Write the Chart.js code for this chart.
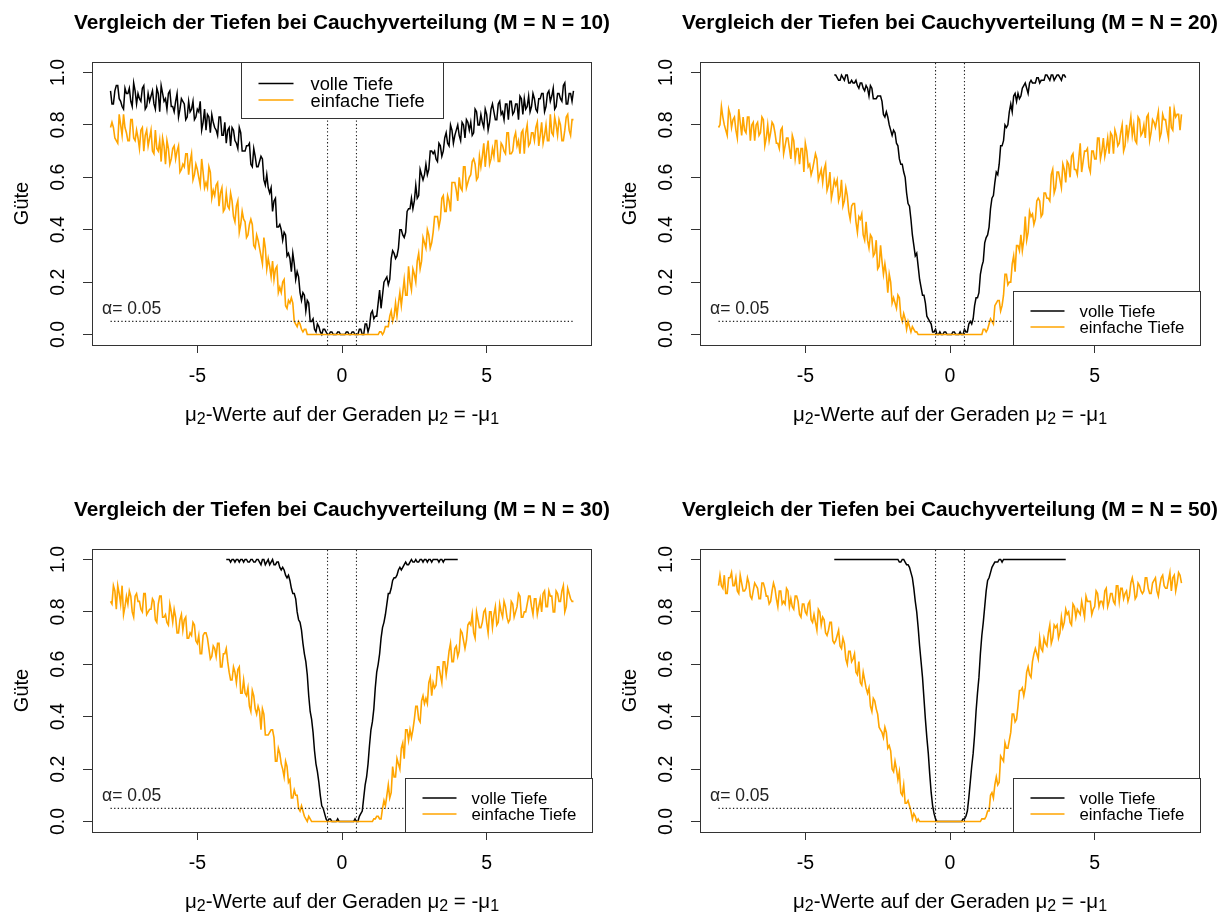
<!DOCTYPE html>
<html>
<head>
<meta charset="utf-8">
<script src="https://cdn.jsdelivr.net/npm/chart.js@4.4.1/dist/chart.umd.min.js"></script>
<style>
  body { margin: 0; background: #fff; width: 1229px; height: 914px; position: relative; overflow: hidden; }
  canvas { position: absolute; }
</style>
</head>
<body>
<canvas id="c10" width="614" height="427" style="left:0px;top:0px"></canvas>
<canvas id="c20" width="614" height="427" style="left:608px;top:0px"></canvas>
<canvas id="c30" width="614" height="427" style="left:0px;top:487px"></canvas>
<canvas id="c50" width="614" height="427" style="left:608px;top:487px"></canvas>
<script>
// ========== DATA ==========
// mu2 grid on the line mu2 = -mu1 (main grid and the points in between)
const X_FULL = [-8,-7.9,-7.8,-7.7,-7.6,-7.5,-7.4,-7.3,-7.2,-7.1,-7,-6.9,-6.8,-6.7,-6.6,-6.5,-6.4,-6.3,-6.2,-6.1,
  -6,-5.9,-5.8,-5.7,-5.6,-5.5,-5.4,-5.3,-5.2,-5.1,-5,-4.9,-4.8,-4.7,-4.6,-4.5,-4.4,-4.3,-4.2,-4.1,
  -4,-3.9,-3.8,-3.7,-3.6,-3.5,-3.4,-3.3,-3.2,-3.1,-3,-2.9,-2.8,-2.7,-2.6,-2.5,-2.4,-2.3,-2.2,-2.1,
  -2,-1.9,-1.8,-1.7,-1.6,-1.5,-1.4,-1.3,-1.2,-1.1,-1,-0.9,-0.8,-0.7,-0.6,-0.5,-0.4,-0.3,-0.2,-0.1,
  0,0.1,0.2,0.3,0.4,0.5,0.6,0.7,0.8,0.9,1,1.1,1.2,1.3,1.4,1.5,1.6,1.7,1.8,1.9,
  2,2.1,2.2,2.3,2.4,2.5,2.6,2.7,2.8,2.9,3,3.1,3.2,3.3,3.4,3.5,3.6,3.7,3.8,3.9,
  4,4.1,4.2,4.3,4.4,4.5,4.6,4.7,4.8,4.9,5,5.1,5.2,5.3,5.4,5.5,5.6,5.7,5.8,5.9,
  6,6.1,6.2,6.3,6.4,6.5,6.6,6.7,6.8,6.9,7,7.1,7.2,7.3,7.4,7.5,7.6,7.7,7.8,7.9,8];
const X_FULL_MID = [-7.95,-7.85,-7.75,-7.65,-7.55,-7.45,-7.35,-7.25,-7.15,-7.05,-6.95,-6.85,-6.75,-6.65,-6.55,-6.45,-6.35,-6.25,-6.15,-6.05,
  -5.95,-5.85,-5.75,-5.65,-5.55,-5.45,-5.35,-5.25,-5.15,-5.05,-4.95,-4.85,-4.75,-4.65,-4.55,-4.45,-4.35,-4.25,-4.15,-4.05,
  -3.95,-3.85,-3.75,-3.65,-3.55,-3.45,-3.35,-3.25,-3.15,-3.05,-2.95,-2.85,-2.75,-2.65,-2.55,-2.45,-2.35,-2.25,-2.15,-2.05,
  -1.95,-1.85,-1.75,-1.65,-1.55,-1.45,-1.35,-1.25,-1.15,-1.05,-0.95,-0.85,-0.75,-0.65,-0.55,-0.45,-0.35,-0.25,-0.15,-0.05,
  0.05,0.15,0.25,0.35,0.45,0.55,0.65,0.75,0.85,0.95,1.05,1.15,1.25,1.35,1.45,1.55,1.65,1.75,1.85,1.95,
  2.05,2.15,2.25,2.35,2.45,2.55,2.65,2.75,2.85,2.95,3.05,3.15,3.25,3.35,3.45,3.55,3.65,3.75,3.85,3.95,
  4.05,4.15,4.25,4.35,4.45,4.55,4.65,4.75,4.85,4.95,5.05,5.15,5.25,5.35,5.45,5.55,5.65,5.75,5.85,5.95,
  6.05,6.15,6.25,6.35,6.45,6.55,6.65,6.75,6.85,6.95,7.05,7.15,7.25,7.35,7.45,7.55,7.65,7.75,7.85,7.95];
const X_HALF = [-4,-3.9,-3.8,-3.7,-3.6,-3.5,-3.4,-3.3,-3.2,-3.1,-3,-2.9,-2.8,-2.7,-2.6,-2.5,-2.4,-2.3,-2.2,-2.1,
  -2,-1.9,-1.8,-1.7,-1.6,-1.5,-1.4,-1.3,-1.2,-1.1,-1,-0.9,-0.8,-0.7,-0.6,-0.5,-0.4,-0.3,-0.2,-0.1,
  0,0.1,0.2,0.3,0.4,0.5,0.6,0.7,0.8,0.9,1,1.1,1.2,1.3,1.4,1.5,1.6,1.7,1.8,1.9,
  2,2.1,2.2,2.3,2.4,2.5,2.6,2.7,2.8,2.9,3,3.1,3.2,3.3,3.4,3.5,3.6,3.7,3.8,3.9,4];
const X_HALF_MID = [-3.95,-3.85,-3.75,-3.65,-3.55,-3.45,-3.35,-3.25,-3.15,-3.05,-2.95,-2.85,-2.75,-2.65,-2.55,-2.45,-2.35,-2.25,-2.15,-2.05,
  -1.95,-1.85,-1.75,-1.65,-1.55,-1.45,-1.35,-1.25,-1.15,-1.05,-0.95,-0.85,-0.75,-0.65,-0.55,-0.45,-0.35,-0.25,-0.15,-0.05,
  0.05,0.15,0.25,0.35,0.45,0.55,0.65,0.75,0.85,0.95,1.05,1.15,1.25,1.35,1.45,1.55,1.65,1.75,1.85,1.95,
  2.05,2.15,2.25,2.35,2.45,2.55,2.65,2.75,2.85,2.95,3.05,3.15,3.25,3.35,3.45,3.55,3.65,3.75,3.85,3.95];

// Guete, volle Tiefe (black) and einfache Tiefe (orange), M = N = 10
const FULL_10 = [.93,.88,.95,.90,.87,.94,.92,.89,.96,.88, .90,.94,.86,.92,.91,.88,.94,.85,.92,.90,
  .92,.87,.85,.92,.86,.89,.82,.89,.86,.82, .86,.89,.81,.78,.83,.84,.79,.76,.83,.76,
  .73,.79,.79,.74,.71,.77,.70,.72,.73,.64, .68,.64,.68,.59,.61,.54,.47,.52,.41,.40,
  .39,.30,.29,.31,.21,.22,.13,.15,.13,.05, .06,.01,.03,0,.02,0,.01,0,0,.01,
  0,0,.01,0,.01,0,.02,0,.04,.01, .08,.06,.07,.17,.15,.21,.19,.29,.31,.30,
  .40,.38,.39,.48,.52,.51,.52,.63,.59,.65, .63,.70,.70,.66,.72,.70,.77,.72,.78,.76,
  .80,.74,.80,.82,.78,.76,.86,.80,.84,.79, .84,.81,.88,.82,.88,.84,.82,.88,.89,.84,
  .88,.82,.90,.90,.87,.85,.92,.86,.90,.92, .85,.92,.89,.94,.87,.92,.89,.96,.88,.92, .93];
const FULL_10_MID = [.88,.93,.95,.89,.86,.92,.94,.87,.93,.92, .89,.95,.87,.89,.93,.86,.92,.95,.89,.86,
  .93,.87,.89,.83,.90,.88,.83,.85,.89,.83, .85,.78,.86,.84,.77,.81,.78,.83,.76,.81,
  .78,.72,.78,.73,.79,.70,.70,.72,.65,.71, .64,.66,.67,.57,.56,.56,.51,.41,.42,.36,
  .38,.31,.24,.27,.24,.16,.16,.09,.12,.05, .02,.04,.01,.02,.01,0,.01,0,.01,0,
  0,.01,0,.01,0,0,.02,0,.04,.03, .09,.07,.12,.10,.20,.22,.21,.32,.29,.33,
  .40,.37,.47,.48,.48,.57,.53,.61,.61,.61, .70,.69,.67,.73,.68,.75,.73,.80,.73,.78,
  .76,.81,.75,.81,.81,.77,.85,.80,.81,.86, .78,.86,.85,.82,.89,.85,.88,.82,.89,.85,
  .88,.91,.84,.86,.91,.87,.90,.85,.90,.92, .87,.93,.91,.86,.92,.90,.95,.88,.92,.89];
const SIMPLE_10 = [.79,.79,.74,.84,.76,.79,.74,.82,.75,.78, .71,.79,.76,.72,.78,.69,.71,.74,.75,.65,
  .71,.67,.72,.70,.62,.65,.69,.61,.69,.61, .63,.57,.62,.58,.64,.52,.53,.58,.54,.47,
  .54,.48,.51,.43,.51,.42,.44,.37,.42,.42, .33,.36,.30,.37,.25,.26,.28,.25,.16,.16,
  .21,.10,.12,.12,.04,.05,.02,.02,0,0, 0,0,0,0,0,0,0,0,0,0,
  0,0,0,0,0,0,0,0,0,0, 0,0,0,.01,0,.03,.03,.09,.07,.07,
  .16,.16,.15,.26,.17,.23,.28,.25,.37,.33, .38,.35,.45,.45,.44,.53,.47,.51,.58,.58,
  .51,.56,.64,.56,.60,.66,.65,.60,.64,.73, .70,.65,.71,.74,.66,.73,.70,.77,.69,.70,
  .77,.74,.77,.69,.80,.73,.77,.79,.72,.81, .76,.74,.84,.76,.80,.82,.74,.78,.84,.76, .82];
const SIMPLE_10_MID = [.81,.75,.73,.80,.84,.77,.74,.82,.74,.75, .78,.70,.78,.75,.70,.78,.70,.66,.72,.74,
  .65,.71,.67,.72,.63,.64,.69,.66,.59,.65, .60,.67,.56,.56,.62,.55,.57,.49,.56,.48,
  .49,.54,.45,.49,.39,.47,.43,.38,.44,.34, .38,.33,.27,.33,.29,.22,.21,.26,.18,.20,
  .11,.13,.14,.05,.03,.04,.01,.02,0,0, 0,0,0,0,0,0,0,0,0,0,
  0,0,0,0,0,0,0,0,0,0, 0,0,0,.01,.01,.03,.07,.05,.12,.12,
  .11,.21,.15,.20,.25,.20,.31,.28,.35,.40, .33,.39,.45,.41,.52,.47,.53,.47,.58,.55,
  .60,.55,.64,.58,.61,.67,.59,.68,.68,.64, .74,.67,.68,.74,.66,.72,.69,.77,.69,.75,
  .72,.69,.78,.77,.72,.77,.74,.81,.76,.73, .80,.74,.77,.83,.76,.80,.74,.83,.78,.82];

// M = N = 20
const FULL_20 = [.99,.98,.97,.98,.99,.96,.97,.96,.95,.96, .94,.95,.91,.94,.90,.91,.91,.84,.85,.80,
  .76,.77,.72,.65,.62,.54,.49,.38,.30,.26, .18,.15,.07,.05,.01,.02,0,0,.01,0,
  0,.01,0,0,0,.02,.01,.05,.06,.14, .16,.26,.35,.38,.48,.53,.62,.65,.72,.80,
  .80,.88,.91,.89,.90,.94,.96,.92,.97,.96, .98,.96,.97,.99,.98,.99,.97,.99,.98,.99, .98];
const FULL_20_MID = [.99,.97,.99,.97,.99,.96,.96,.97,.94,.96, .93,.94,.95,.90,.90,.91,.89,.83,.83,.78,
  .78,.73,.67,.65,.60,.50,.44,.34,.31,.21, .15,.12,.06,.04,.01,0,.01,0,.01,0,
  0,.01,0,.01,0,.01,.04,.04,.11,.14, .23,.28,.37,.41,.52,.58,.61,.72,.74,.79,
  .85,.85,.92,.92,.91,.95,.94,.96,.96,.96, .98,.97,.97,.99,.97,.99,.98,.99,.97,.99];
const SIMPLE_20 = [.79,.87,.80,.76,.84,.82,.78,.86,.76,.78, .83,.74,.81,.80,.76,.83,.72,.80,.77,.80,
  .73,.71,.79,.72,.75,.67,.74,.71,.65,.71, .73,.64,.61,.66,.67,.61,.58,.65,.57,.52,
  .59,.59,.53,.49,.56,.47,.49,.50,.39,.44, .38,.43,.33,.37,.31,.25,.34,.23,.23,.23,
  .12,.12,.15,.07,.08,.02,.03,.03,.01,0, 0,0,0,0,0,0,0,0,0,0,
  0,0,0,0,0,0,0,0,0,0, 0,0,.02,.02,.06,.04,.12,.13,.11,.23,
  .19,.20,.30,.34,.32,.32,.45,.39,.45,.42, .51,.51,.46,.54,.52,.61,.54,.62,.59,.65,
  .58,.65,.68,.63,.61,.73,.66,.70,.64,.70, .67,.75,.67,.75,.71,.69,.76,.78,.72,.77,
  .70,.80,.79,.76,.74,.83,.76,.80,.83,.74, .82,.79,.85,.77,.82,.78,.87,.78,.83,.84, .84];
const SIMPLE_20_MID = [.80,.83,.78,.86,.79,.83,.75,.81,.83,.77, .83,.80,.74,.81,.77,.82,.75,.74,.81,.77,
  .73,.78,.69,.75,.71,.76,.67,.71,.71,.62, .70,.65,.63,.69,.59,.63,.63,.55,.62,.55,
  .57,.51,.59,.51,.53,.44,.50,.43,.45,.46, .36,.36,.38,.30,.36,.26,.28,.27,.16,.20,
  .14,.10,.14,.05,.06,.05,.01,.02,.01,0, 0,0,0,0,0,0,0,0,0,0,
  0,0,0,0,0,0,0,0,0,0, 0,.02,.01,.04,.05,.11,.13,.09,.15,.23,
  .20,.27,.24,.34,.38,.36,.36,.47,.46,.44, .52,.45,.54,.52,.51,.63,.56,.62,.56,.63,
  .66,.60,.69,.63,.67,.62,.70,.71,.62,.70, .67,.75,.70,.68,.75,.77,.69,.76,.73,.80,
  .72,.75,.83,.80,.73,.82,.77,.75,.84,.77, .81,.82,.75,.84,.82,.75,.79,.86,.84,.78];

// M = N = 30
const FULL_30 = [1,1,1,.99,1,1,.99,1,.99,1, .99,1,.98,1,.99,.98,1,.98,.99,.96,
  .96,.93,.92,.87,.85,.77,.73,.64,.56,.42, .34,.22,.15,.06,.03,0,.01,0,0,0,
  0,0,0,0,0,0,.02,.04,.14,.22, .35,.43,.57,.64,.74,.79,.87,.89,.93,.94,
  .97,.97,.99,.98,1,.99,.99,1,.99,1, 1,.99,1,1,1,.99,1,1,1,1, 1];
const FULL_30_MID = [1,.99,1,1,.99,1,1,.99,1,.99, 1,.99,1,.98,1,.99,.98,.99,.97,.97,
  .94,.94,.89,.87,.80,.76,.68,.61,.48,.39, .27,.19,.10,.05,.01,.01,0,0,.01,0,
  0,0,0,0,.01,0,.03,.09,.17,.29, .38,.51,.60,.70,.76,.83,.87,.92,.93,.96,
  .96,.98,.98,.99,.99,1,.99,1,1,.99, 1,1,1,.99,1,1,1,1,1,1];
const SIMPLE_30 = [.84,.90,.81,.87,.90,.82,.83,.86,.78,.87, .84,.80,.87,.80,.81,.84,.76,.86,.78,.79,
  .75,.80,.81,.72,.77,.73,.78,.70,.71,.75, .68,.64,.71,.72,.66,.63,.66,.68,.59,.64,
  .66,.57,.54,.57,.58,.49,.54,.48,.44,.50, .43,.44,.35,.41,.33,.34,.35,.23,.28,.22,
  .17,.21,.16,.09,.10,.05,.06,.02,0,.01, 0,0,0,0,0,0,0,0,0,0,
  0,0,0,0,0,0,0,0,0,0, 0,.01,.02,.01,.05,.06,.14,.11,.17,.24,
  .20,.30,.35,.31,.32,.39,.44,.38,.48,.47, .53,.48,.51,.59,.56,.61,.56,.65,.61,.66,
  .63,.73,.69,.69,.76,.79,.70,.77,.74,.80, .76,.80,.74,.82,.76,.80,.84,.78,.77,.83,
  .80,.87,.78,.80,.83,.86,.79,.85,.82,.80, .88,.82,.86,.80,.88,.84,.88,.80,.89,.85, .84];
const SIMPLE_30_MID = [.83,.88,.90,.83,.79,.86,.88,.80,.86,.84, .81,.87,.79,.81,.85,.77,.83,.86,.78,.76,
  .83,.76,.78,.72,.79,.77,.70,.72,.76,.69, .71,.64,.72,.70,.62,.67,.63,.68,.59,.64,
  .61,.54,.59,.53,.59,.49,.49,.51,.42,.48, .41,.42,.43,.33,.33,.35,.32,.23,.26,.20,
  .23,.15,.09,.12,.10,.04,.04,.01,.02,0, 0,0,0,0,0,0,0,0,0,0,
  0,0,0,0,0,0,0,0,0,0, 0,.01,.02,.01,.08,.10,.09,.21,.17,.22,
  .28,.24,.35,.35,.35,.44,.39,.46,.45,.45, .55,.53,.52,.59,.53,.61,.60,.68,.61,.67,
  .65,.72,.66,.75,.75,.72,.80,.74,.76,.81, .72,.80,.79,.75,.83,.78,.82,.76,.84,.78,
  .82,.86,.78,.80,.86,.82,.85,.79,.85,.87, .82,.88,.86,.80,.87,.84,.90,.82,.87,.84];

// M = N = 50
const FULL_50 = [1,1,1,1,1,1,1,1,1,1, 1,1,1,1,1,1,1,1,1,1,
  1,1,1,.99,1,.98,.97,.93,.84,.74, .61,.47,.32,.18,.06,.01,0,0,0,0,
  0,0,0,0,0,.01,.04,.15,.26,.42, .55,.71,.82,.92,.95,.98,.99,1,.99,1,
  1,1,1,1,1,1,1,1,1,1, 1,1,1,1,1,1,1,1,1,1, 1];
const FULL_50_MID = [1,1,1,1,1,1,1,1,1,1, 1,1,1,1,1,1,1,1,1,1,
  1,1,.99,1,.99,.98,.95,.89,.80,.67, .55,.39,.26,.11,.03,0,0,0,0,0,
  0,0,0,0,.01,.02,.09,.21,.33,.49, .64,.76,.88,.93,.97,.99,.99,1,1,1,
  1,1,1,1,1,1,1,1,1,1, 1,1,1,1,1,1,1,1,1,1];
const SIMPLE_50 = [.90,.90,.94,.87,.93,.90,.93,.87,.91,.88, .93,.86,.88,.90,.85,.91,.89,.86,.84,.91,
  .85,.88,.83,.83,.88,.85,.81,.86,.79,.83, .80,.83,.77,.79,.73,.80,.78,.72,.73,.76,
  .68,.71,.67,.70,.62,.65,.61,.64,.56,.53, .57,.51,.51,.42,.46,.41,.35,.32,.34,.29,
  .20,.23,.16,.11,.14,.07,.06,.01,.02,.01, 0,0,0,0,0,0,0,0,0,0,
  0,0,0,0,0,0,0,0,0,0, 0,.01,.01,.04,.10,.09,.17,.15,.24,.30,
  .28,.34,.41,.39,.50,.51,.51,.59,.55,.64, .64,.70,.65,.68,.72,.68,.75,.75,.72,.74,
  .81,.80,.75,.82,.81,.79,.81,.86,.84,.79, .82,.87,.84,.82,.89,.84,.87,.83,.90,.89,
  .85,.88,.86,.93,.85,.91,.88,.88,.93,.87, .91,.93,.86,.93,.90,.89,.95,.93,.88,.95, .91];
const SIMPLE_50_MID = [.94,.89,.87,.93,.95,.90,.88,.94,.88,.89, .91,.85,.91,.89,.85,.91,.86,.83,.88,.89,
  .82,.88,.84,.89,.82,.82,.86,.84,.78,.83, .79,.84,.76,.76,.81,.75,.77,.71,.76,.69,
  .69,.73,.66,.68,.60,.65,.62,.57,.61,.52, .54,.49,.44,.47,.43,.36,.34,.36,.28,.27,
  .19,.20,.19,.10,.07,.08,.04,.03,0,0, 0,0,0,0,0,0,0,0,0,0,
  0,0,0,0,0,0,0,0,0,0, 0,.01,.02,.04,.11,.14,.14,.25,.23,.28,
  .31,.41,.38,.44,.50,.48,.57,.56,.61,.66, .62,.66,.70,.67,.75,.70,.74,.70,.78,.76,
  .79,.76,.83,.78,.80,.84,.78,.84,.84,.81, .88,.82,.84,.88,.82,.87,.84,.90,.84,.89,
  .87,.84,.91,.90,.86,.90,.87,.93,.89,.87, .92,.88,.90,.94,.89,.92,.88,.94,.91,.94];

const SAMPLE_SIZES = [10, 20, 30, 50];
const X_TICKS = [-5, 0, 5];
const Y_TICKS = [0, 0.2, 0.4, 0.6, 0.8, 1.0];
const ALPHA = 0.05;
const ALPHA_SPAN = [-8, 8];
const BAND_EDGES = [-0.5, 0.5];
const LEGEND_LABELS = ['volle Tiefe', 'einfache Tiefe'];
// ========== DATA END ==========

const FONT = "'Liberation Sans', Arial, Helvetica, sans-serif";
const X_RANGE = [-8.64, 8.64];
const Y_RANGE = [-0.04, 1.04];
const AREA = { left: 92, right: 592, top: 62, bottom: 345 };
const ORANGE = '#FFA500';

const LEGEND_STYLE = {
  top:         { w: 202, h: 56, font: 18.3, rows: [21, 37.5], line: [17, 52], text: 69 },
  bottomright: { w: 187, h: 54, font: 16.8, rows: [19.5, 35.5], line: [17, 51], text: 66 }
};

const PANELS = [
  { id: 'c10', legend: 'top',
    full: [X_FULL, FULL_10, X_FULL_MID, FULL_10_MID], simple: [X_FULL, SIMPLE_10, X_FULL_MID, SIMPLE_10_MID] },
  { id: 'c20', legend: 'bottomright',
    full: [X_HALF, FULL_20, X_HALF_MID, FULL_20_MID], simple: [X_FULL, SIMPLE_20, X_FULL_MID, SIMPLE_20_MID] },
  { id: 'c30', legend: 'bottomright',
    full: [X_HALF, FULL_30, X_HALF_MID, FULL_30_MID], simple: [X_FULL, SIMPLE_30, X_FULL_MID, SIMPLE_30_MID] },
  { id: 'c50', legend: 'bottomright',
    full: [X_HALF, FULL_50, X_HALF_MID, FULL_50_MID], simple: [X_FULL, SIMPLE_50, X_FULL_MID, SIMPLE_50_MID] }
];

// weave grid points and in-between points into one ordered line
function toPoints(s) {
  const [xs, ys, xm, ym] = s, pts = [];
  xs.forEach((x, i) => {
    pts.push({ x: x, y: ys[i] });
    if (i < xm.length) pts.push({ x: xm[i], y: ym[i] });
  });
  return pts;
}

function dotted(data) {
  return {
    data: data, borderColor: '#222', borderWidth: 1.1, borderDash: [1.3, 2.3],
    pointRadius: 0, order: 0
  };
}

// x axis title with subscripts (mu_2 ...)
function drawAxisTitle(ctx, cx, baseY) {
  const parts = [['\u03bc', 0], ['2', 1], ['-Werte auf der Geraden ', 0], ['\u03bc', 0], ['2', 1],
                 [' = -', 0], ['\u03bc', 0], ['1', 1]];
  const big = '20.5px ' + FONT, small = '16px ' + FONT;
  let w = 0;
  parts.forEach(p => { ctx.font = p[1] ? small : big; w += ctx.measureText(p[0]).width; });
  let x = cx - w / 2;
  ctx.textAlign = 'left';
  ctx.textBaseline = 'alphabetic';
  parts.forEach(p => {
    ctx.font = p[1] ? small : big;
    ctx.fillText(p[0], x, baseY + (p[1] ? 3 : 0));
    x += ctx.measureText(p[0]).width;
  });
}

function decorPlugin(n, legendPos) {
  return {
    id: 'decor',
    afterDraw(chart) {
      const ctx = chart.ctx, a = chart.chartArea, xs = chart.scales.x, ys = chart.scales.y;
      const cx = (a.left + a.right) / 2;
      ctx.save();
      ctx.fillStyle = '#000';

      // title
      ctx.font = 'bold 20.8px ' + FONT;
      ctx.textAlign = 'center';
      ctx.textBaseline = 'alphabetic';
      ctx.fillText('Vergleich der Tiefen bei Cauchyverteilung (M = N = ' + n + ')', cx, 28.5);

      // x tick labels
      ctx.font = '19.5px ' + FONT;
      X_TICKS.forEach(v => ctx.fillText(String(v), xs.getPixelForValue(v), 382));

      // y tick labels, parallel to the axis
      Y_TICKS.forEach(v => {
        ctx.save();
        ctx.translate(63.5, ys.getPixelForValue(v));
        ctx.rotate(-Math.PI / 2);
        ctx.fillText(v.toFixed(1), 0, 0);
        ctx.restore();
      });

      // axis titles
      ctx.save();
      ctx.font = '20px ' + FONT;
      ctx.translate(28, (a.top + a.bottom) / 2);
      ctx.rotate(-Math.PI / 2);
      ctx.fillText('G\u00fcte', 0, 0);
      ctx.restore();
      drawAxisTitle(ctx, cx, 421);

      // alpha label
      ctx.font = '17.5px ' + FONT;
      ctx.fillStyle = '#222';
      ctx.textAlign = 'center';
      ctx.textBaseline = 'middle';
      ctx.fillText('\u03b1= ' + ALPHA.toFixed(2), xs.getPixelForValue(-7.27), ys.getPixelForValue(0.096));

      // box
      ctx.strokeStyle = '#333';
      ctx.lineWidth = 1;
      ctx.strokeRect(a.left + 0.5, a.top + 0.5, a.right - a.left - 1, a.bottom - a.top);

      // legend
      const st = LEGEND_STYLE[legendPos];
      let lx, ly;
      if (legendPos === 'top') { lx = Math.round(cx - st.w / 2) + 0.5; ly = a.top + 0.5; }
      else { lx = a.right - st.w + 0.5; ly = a.bottom - st.h + 0.5; }
      ctx.fillStyle = '#fff';
      ctx.fillRect(lx, ly, st.w, st.h);
      ctx.strokeRect(lx, ly, st.w, st.h);
      const colors = ['#000', ORANGE];
      ctx.font = st.font + 'px ' + FONT;
      ctx.textAlign = 'left';
      ctx.textBaseline = 'middle';
      LEGEND_LABELS.forEach((lab, i) => {
        const ry = ly + st.rows[i];
        ctx.strokeStyle = colors[i];
        ctx.lineWidth = 1.4;
        ctx.beginPath();
        ctx.moveTo(lx + st.line[0], ry);
        ctx.lineTo(lx + st.line[1], ry);
        ctx.stroke();
        ctx.fillStyle = '#000';
        ctx.fillText(lab, lx + st.text, ry + 1.5);
      });
      ctx.restore();
    }
  };
}

PANELS.forEach((p, k) => {
  const canvas = document.getElementById(p.id);
  const H = canvas.height, W = canvas.width;
  const datasets = [
    { data: toPoints(p.simple), borderColor: ORANGE, borderWidth: 1.6, pointRadius: 0, order: 1 },
    { data: toPoints(p.full), borderColor: '#000', borderWidth: 1.5, pointRadius: 0, order: 2 },
    dotted(ALPHA_SPAN.map(x => ({ x: x, y: ALPHA }))),
    dotted([{ x: BAND_EDGES[0], y: Y_RANGE[0] }, { x: BAND_EDGES[0], y: Y_RANGE[1] }]),
    dotted([{ x: BAND_EDGES[1], y: Y_RANGE[0] }, { x: BAND_EDGES[1], y: Y_RANGE[1] }])
  ];
  new Chart(canvas.getContext('2d'), {
    type: 'line',
    data: { datasets: datasets },
    options: {
      responsive: false,
      animation: false,
      devicePixelRatio: 1,
      events: [],
      layout: { padding: { top: AREA.top, right: W - AREA.right, left: 0, bottom: 0 } },
      elements: { line: { tension: 0 } },
      plugins: { legend: { display: false }, tooltip: { enabled: false } },
      scales: {
        x: {
          type: 'linear', min: X_RANGE[0], max: X_RANGE[1],
          afterBuildTicks: s => { s.ticks = X_TICKS.map(v => ({ value: v })); },
          afterFit: s => { s.height = H - AREA.bottom; },
          ticks: { display: false },
          border: { display: false },
          grid: { drawOnChartArea: false, drawTicks: true, tickLength: 8, color: '#333' }
        },
        y: {
          type: 'linear', min: Y_RANGE[0], max: Y_RANGE[1],
          afterBuildTicks: s => { s.ticks = Y_TICKS.map(v => ({ value: v })); },
          afterFit: s => { s.width = AREA.left; },
          ticks: { display: false },
          border: { display: false },
          grid: { drawOnChartArea: false, drawTicks: true, tickLength: 9, color: '#333' }
        }
      }
    },
    plugins: [decorPlugin(SAMPLE_SIZES[k], p.legend)]
  });
});
</script>
</body>
</html>
